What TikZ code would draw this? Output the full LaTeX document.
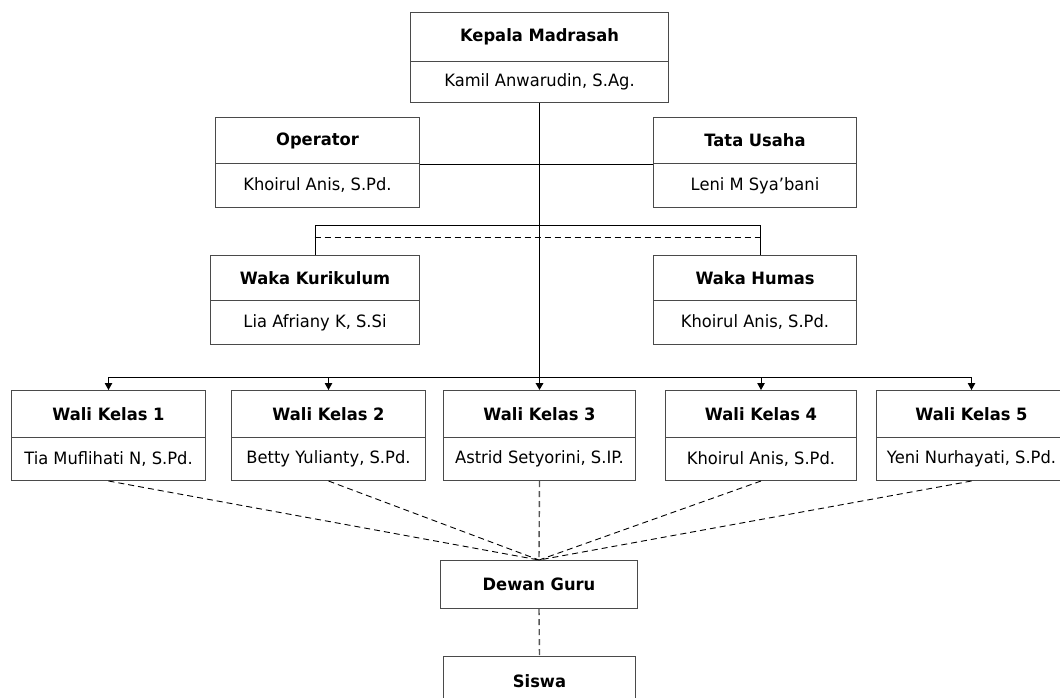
\documentclass[tikz,border=0pt]{standalone}
\usepackage{fontspec}
\setmainfont{DejaVu Sans}[FakeStretch=0.96]
\usetikzlibrary{arrows.meta}
\definecolor{boxc}{HTML}{4A4A4A}
\definecolor{dashc}{HTML}{555555}
\tikzset{
  box/.style={draw=boxc, line width=1pt, inner sep=0pt, anchor=north west, align=center, font=\fontsize{17}{20}\selectfont},
  ttl/.style={box, font=\fontsize{17}{20}\selectfont\bfseries},
  nm/.style={box},
  conn/.style={draw=black, line width=1pt},
  mainln/.style={draw=black, line width=1.8pt},
  arr/.style={-{Triangle[length=7pt,width=7.5pt]}},
  dsh/.style={draw=black, line width=0.9pt, dash pattern=on 6pt off 4pt},
  gdsh/.style={draw=dashc, line width=1.4pt, dash pattern=on 6pt off 4pt}
}
\begin{document}
\begin{tikzpicture}[x=1pt,y=-1pt]
\useasboundingbox[fill=white] (0,0) rectangle (1060,697);
% Kepala
\node[ttl, minimum width=258pt, minimum height=49pt] (kt) at (410,12) {Kepala Madrasah};
\node[nm, minimum width=258pt, minimum height=41pt] (kn) at (410,61) {Kamil Anwarudin, S.Ag.};
% Operator / Tata Usaha
\node[ttl, minimum width=204pt, minimum height=46pt] (opt) at (215,117) {Operator};
\node[nm, minimum width=204pt, minimum height=44pt] (opn) at (215,163) {Khoirul Anis, S.Pd.};
\node[ttl, minimum width=203pt, minimum height=46pt] (tut) at (653,117) {Tata Usaha};
\node[nm, minimum width=203pt, minimum height=44pt] (tun) at (653,163) {Leni M Sya’bani};
% Waka
\node[ttl, minimum width=209pt, minimum height=45pt] (wkt) at (210,255) {Waka Kurikulum};
\node[nm, minimum width=209pt, minimum height=44pt] (wkn) at (210,300) {Lia Afriany K, S.Si};
\node[ttl, minimum width=203pt, minimum height=45pt] (wht) at (653,255) {Waka Humas};
\node[nm, minimum width=203pt, minimum height=44pt] (whn) at (653,300) {Khoirul Anis, S.Pd.};
% Wali Kelas
\node[ttl, minimum width=194pt, minimum height=47pt] (w1t) at (11,390) {Wali Kelas 1};
\node[nm, minimum width=194pt, minimum height=43pt] (w1n) at (11,437) {Tia Muflihati N, S.Pd.};
\node[ttl, minimum width=194pt, minimum height=47pt] (w2t) at (231,390) {Wali Kelas 2};
\node[nm, minimum width=194pt, minimum height=43pt] (w2n) at (231,437) {Betty Yulianty, S.Pd.};
\node[ttl, minimum width=192pt, minimum height=47pt] (w3t) at (443,390) {Wali Kelas 3};
\node[nm, minimum width=192pt, minimum height=43pt] (w3n) at (443,437) {Astrid Setyorini, S.IP.};
\node[ttl, minimum width=191pt, minimum height=47pt] (w4t) at (665,390) {Wali Kelas 4};
\node[nm, minimum width=191pt, minimum height=43pt] (w4n) at (665,437) {Khoirul Anis, S.Pd.};
\node[ttl, minimum width=190pt, minimum height=47pt] (w5t) at (876,390) {Wali Kelas 5};
\node[nm, minimum width=190pt, minimum height=43pt] (w5n) at (876,437) {Yeni Nurhayati, S.Pd.};
% Dewan Guru, Siswa
\node[ttl, minimum width=197pt, minimum height=48pt] (dg) at (440,560) {Dewan Guru};
\node[ttl, minimum width=192pt, minimum height=50pt] (sw) at (443,656) {Siswa};
% connectors
\draw[conn] (opt.south east) -- (tut.south west);
\coordinate (jr) at (760,225);
\coordinate (dl) at (314.5,237);
\coordinate (dr) at (760,237);
\draw[conn] (wkt.north) |- (jr) -- (jr |- wht.north);
\draw[dsh] (dl) -- (dr);
\coordinate (bus) at (108,377);
\draw[conn] (w1t.north |- bus) -- (w5t.north |- bus);
\foreach \n in {w1t,w2t,w4t,w5t}{
  \draw[conn,arr] (\n.north |- bus) -- (\n.north);
}
\draw[mainln,arr] (kn.south) -- (w3t.north);
\foreach \n in {w1n,w2n,w4n,w5n}{
  \draw[dsh] (\n.south) -- (dg.north);
}
\draw[gdsh] (w3n.south) -- (dg.north);
\draw[gdsh] (dg.south) -- (sw.north);
\end{tikzpicture}
\end{document}
